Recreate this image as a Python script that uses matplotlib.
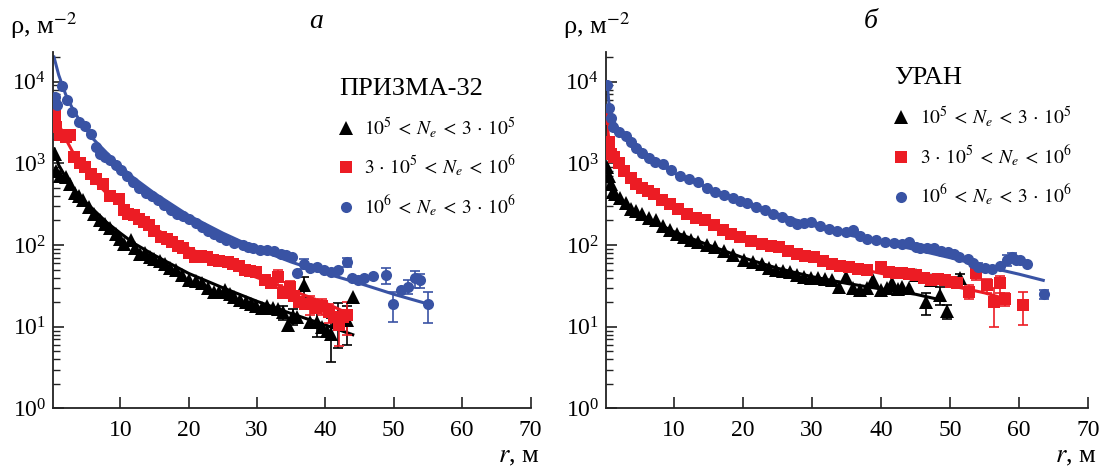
import numpy as np
import matplotlib
matplotlib.use('Agg')
import matplotlib.pyplot as plt
from matplotlib.lines import Line2D
from matplotlib.ticker import LogLocator, NullFormatter

plt.rcParams['font.family'] = ['Liberation Serif', 'DejaVu Serif']
plt.rcParams['mathtext.fontset'] = 'stix'

BLACK = '#000000'
RED = '#ec1c24'
BLUE = '#3953a4'

# ---- panel a: PRISMA-32 ----
a_blk_r = [0.4, 0.6, 1.2, 2.0, 2.6, 3.4, 4.0, 4.6, 5.4, 6.2, 7.0, 7.7, 8.5, 9.3, 10.0, 10.6,
           11.6, 12.2, 12.9, 13.6, 14.3, 15.0, 15.8, 16.5, 17.3, 18.1, 19.0, 20.1, 21.0, 21.9,
           22.8, 23.7, 24.5, 25.3, 26.0, 26.6, 27.5, 28.4, 29.1, 29.9, 30.7, 31.5, 32.3, 33.0,
           33.8, 34.6, 35.2, 35.9, 36.9, 37.7, 38.7, 39.5, 40.2, 40.8, 41.8, 43.1, 44.1]
a_blk_rho = [1300, 800, 700, 680, 560, 430, 400, 355, 290, 240, 205, 183, 160, 138, 118, 104,
             114, 92, 78, 80, 72, 68, 63, 59, 52, 49, 43, 37, 36, 34,
             30, 27, 27, 28, 25, 23, 21, 20, 19, 18, 17, 18, 17, 16.6,
             15, 10.4, 13.5, 13, 32, 11.5, 11.5, 10, 9, 8.2, 12.5, 12, 23]
a_red_r = [0.4, 0.6, 1.2, 2.0, 2.6, 3.3, 4.1, 4.8, 5.7, 6.5, 7.5, 8.5, 9.8, 10.5, 11.1, 12.0,
           12.7, 13.4, 14.2, 15.0, 16.0, 16.8, 17.6, 18.4, 19.1, 20.0, 20.9, 21.8, 22.7, 23.6,
           24.5, 25.8, 26.5, 27.3, 28.2, 29.0, 29.9, 31.2, 32.0, 33.0, 33.8, 34.8, 35.4, 36.1,
           37.0, 37.7, 38.6, 39.5, 40.5, 41.2, 42.0, 42.5, 43.1]
a_red_rho = [3900, 2800, 2200, 2100, 2200, 1200, 1000, 900, 750, 650, 560, 400, 370, 270, 242, 230,
             210, 192, 175, 150, 125, 118, 110, 98, 91, 80, 71, 73, 71, 66,
             63, 62, 58, 56, 50, 48, 47, 37, 34, 41, 26, 31, 24, 20,
             19, 19, 17, 18, 15, 13, 10.4, 13, 14]
a_blu_r = [0.5, 0.8, 1.5, 2.2, 3.0, 3.9, 4.8, 5.7, 6.4, 7.0, 7.8, 8.5, 9.3, 10.1, 11.0, 11.9,
           12.8, 13.7, 14.6, 15.5, 16.4, 17.4, 18.3, 19.2, 20.1, 21.0, 21.9, 22.8, 23.7, 24.6,
           25.5, 26.7, 27.9, 28.7, 29.4, 30.5, 31.5, 32.5, 33.5, 34.3, 35.1, 35.9, 36.9, 37.8,
           38.7, 39.8, 40.8, 41.9, 43.1, 43.9, 44.8, 45.7, 47.0, 48.8, 49.9, 51.1, 52.1, 53.1,
           53.9, 55.0]
a_blu_rho = [6500, 5200, 8800, 6000, 4200, 3200, 2900, 2300, 1600, 1300, 1200, 1100, 950, 820, 700, 590,
             500, 430, 400, 355, 310, 270, 240, 225, 210, 185, 166, 150, 138, 125,
             114, 105, 100, 94, 91, 88, 86, 84, 78, 75, 71, 45, 59, 52,
             54, 49, 47, 50, 62, 39, 37, 39, 42, 43, 19, 28, 31, 39,
             37, 19]

# fitted curves, panel a
a_blk_fit_r = [0.3, 1, 2, 3, 5, 8, 10, 12, 15, 20, 25, 30, 35, 40, 44]
a_blk_fit = [1500, 950, 680, 500, 330, 190, 140, 105, 75, 45, 30, 20.5, 14.5, 10.5, 8]
a_red_fit_r = [0.3, 1, 2, 3, 4, 5, 6, 8, 10, 12, 15, 20, 25, 30, 35, 40, 43]
a_red_fit = [4500, 3000, 2000, 1400, 1050, 800, 640, 430, 310, 235, 160, 92, 58, 40, 28, 19.5, 15]
a_blu_fit_r = [0.3, 1, 2, 3, 4, 5, 6, 8, 10, 12, 15, 20, 25, 30, 35, 40, 45, 50, 55]
a_blu_fit = [20000, 12000, 7000, 4700, 3400, 2600, 2000, 1350, 920, 660, 430, 230, 140, 90, 62, 45, 34, 25, 19]

# error bars (r, rho, half-length), panel a
a_blk_err = [(29.9, 18, 2), (33.8, 15, 3), (35.2, 13.5, 3), (36.9, 32, 9), (38.7, 11.5, 4),
             (40.8, 8.2, 4.5), (41.8, 12.5, 7), (43.1, 12, 6)]
a_red_err = [(33.0, 41, 9), (34.8, 31, 5), (37.7, 19, 5), (39.5, 18, 4), (40.5, 15, 4),
             (42.0, 10.4, 4.5), (43.1, 14, 6)]
a_blu_err = [(36.9, 59, 8), (43.1, 62, 8), (48.8, 43, 10), (49.9, 19, 7.5), (52.1, 31, 6),
             (53.1, 39, 9), (53.9, 37, 7), (55.0, 19, 8)]

# ---- panel б: УРАН ----
b_blk_r = [0.3, 0.5, 0.8, 1.2, 1.5, 2.2, 3.0, 3.8, 4.5, 5.3, 6.3, 7.4, 8.4, 9.4, 10.4, 11.4,
           12.4, 13.5, 14.7, 16.0, 17.3, 18.6, 20.1, 21.4, 22.7, 23.7, 24.7, 25.8, 26.8, 27.8,
           28.8, 29.8, 30.8, 31.8, 32.9, 33.9, 34.9, 36.0, 37.0, 38.0, 38.8, 40.0, 40.8, 41.6,
           42.4, 43.1, 44.1, 45.1, 46.5, 47.2, 48.5, 49.5, 51.5]
b_blk_rho = [900, 700, 560, 450, 420, 380, 330, 275, 260, 240, 215, 200, 170, 151, 138, 125,
             115, 109, 100, 95, 84, 75, 65, 62, 59, 53, 49, 48, 47, 43,
             41, 40, 39, 38, 37, 31, 41, 30, 28, 30, 37, 28, 30, 34,
             29, 31, 30, 43, 20, 37, 24.5, 15.4, 39]
b_red_r = [0.3, 0.5, 0.8, 1.3, 2.0, 2.8, 3.8, 4.5, 5.3, 6.2, 7.1, 8.2, 9.4, 10.6, 11.9, 13.2,
           14.5, 15.8, 17.1, 18.3, 19.6, 21.1, 22.7, 24.0, 25.2, 26.5, 27.8, 29.0, 30.3, 31.6,
           32.9, 34.1, 35.4, 36.7, 38.0, 40.0, 41.1, 42.1, 43.1, 44.1, 45.1, 46.2, 47.2, 48.2,
           49.2, 50.1, 51.0, 52.8, 53.8, 55.3, 56.4, 57.2, 58.0, 60.6]
b_red_rho = [3500, 1800, 1300, 1200, 1000, 800, 670, 560, 505, 460, 420, 360, 317, 275, 240, 215,
             200, 175, 151, 135, 125, 112, 104, 98, 95, 85, 78, 74, 71, 64,
             59, 56, 54, 51, 49, 54, 47, 46, 45, 44, 43, 40, 37, 38,
             37, 35, 34, 27, 45, 32, 20, 34, 22, 18.5]
b_blu_r = [0.3, 0.5, 0.8, 1.2, 2.0, 3.0, 3.7, 4.5, 5.4, 6.3, 7.3, 8.4, 9.6, 10.9, 12.2, 13.5,
           14.7, 16.0, 17.3, 18.6, 19.6, 20.6, 21.9, 23.2, 24.4, 25.7, 26.8, 27.8, 28.8, 29.8,
           31.1, 32.4, 33.6, 34.9, 36.0, 37.0, 38.0, 39.3, 40.6, 41.9, 43.1, 44.1, 45.0, 45.7,
           46.7, 47.7, 48.7, 49.7, 50.5, 51.3, 52.6, 53.3, 54.1, 55.1, 56.1, 57.2, 58.2, 58.9,
           59.6, 60.2, 61.2, 63.6]
b_blu_rho = [9000, 4800, 3600, 2800, 2400, 2150, 1800, 1550, 1350, 1170, 1050, 975, 820, 700, 640, 590,
             500, 440, 410, 380, 350, 330, 295, 265, 240, 218, 195, 180, 185, 190,
             170, 158, 150, 144, 151, 130, 119, 114, 109, 105, 104, 109, 96, 91,
             92, 91, 85, 82, 78, 71, 68, 60, 54, 52, 51, 55, 65, 71,
             66, 65, 59, 25]

# fitted curves, panel б
b_blk_fit_r = [0.3, 0.6, 1, 2, 3, 5, 7, 10, 15, 20, 25, 30, 35, 40, 45, 49]
b_blk_fit = [800, 560, 450, 360, 310, 240, 195, 145, 100, 70, 52, 41, 34, 29, 25, 21]
b_red_fit_r = [0.3, 0.6, 1, 2, 3, 5, 7, 10, 15, 20, 25, 30, 35, 40, 45, 50, 55, 58]
b_red_fit = [3000, 1800, 1400, 1000, 800, 540, 420, 300, 190, 125, 92, 70, 55, 45, 38, 32, 26, 22]
b_blu_fit_r = [0.3, 0.6, 1, 2, 3, 5, 7, 10, 15, 20, 25, 30, 35, 40, 45, 50, 55, 60, 63.5]
b_blu_fit = [9500, 5000, 3600, 2500, 2000, 1400, 1080, 760, 500, 340, 240, 175, 135, 108, 88, 70, 55, 44, 37]

b_blk_err = [(45.1, 43, 6), (46.5, 20, 6), (47.2, 37, 5), (48.5, 24.5, 6), (49.5, 15.4, 3),
             (51.5, 39, 5)]
b_red_err = [(52.8, 27, 5), (53.8, 45, 8), (55.3, 32, 6), (56.4, 20, 10), (57.2, 34, 8),
             (58.0, 22, 4), (60.6, 18.5, 8)]
b_blu_err = [(54.1, 54, 6), (58.2, 65, 10), (58.9, 71, 8), (63.6, 25, 3)]

labels = [r'$10^5\:<\:N_e\:<\:3\,\cdot\,10^5$',
          r'$3\,\cdot\,10^5\:<\:N_e\:<\:10^6$',
          r'$10^6\:<\:N_e\:<\:3\,\cdot\,10^6$']


def draw_panel(ax, series, letter, det_name, leg_y):
    for r, rho, fr, fit, err, color, marker, ms in series:
        ax.plot(fr, fit, '-', color=color, lw=2.2, zorder=2)
        if err:
            er, erho, ee = zip(*err)
            ax.errorbar(er, erho, yerr=ee, fmt='none', ecolor=color, elinewidth=1.2,
                        capsize=3.5, capthick=1.2, zorder=2)
        ax.plot(r, rho, linestyle='none', marker=marker, color=color, ms=ms,
                markeredgewidth=0, zorder=3)

    ax.set_yscale('log')
    ax.set_ylim(1, 2.3e4)
    ax.set_xlim(0.15, 70)
    ax.set_xticks([10, 20, 30, 40, 50, 60, 70])
    ax.yaxis.set_major_locator(LogLocator(base=10, numticks=10))
    ax.yaxis.set_minor_locator(LogLocator(base=10, subs=np.arange(2, 10), numticks=10))
    ax.yaxis.set_minor_formatter(NullFormatter())
    ax.tick_params(which='major', direction='in', length=8, width=1.2, labelsize=17,
                   colors='#222222', labelcolor='black')
    ax.tick_params(which='minor', direction='in', length=5, width=1.0, colors='#222222')
    ax.tick_params(axis='x', pad=8)
    ax.tick_params(axis='y', pad=5)
    for side in ['top', 'right']:
        ax.spines[side].set_visible(False)
    for side in ['left', 'bottom']:
        ax.spines[side].set_linewidth(1.3)
        ax.spines[side].set_color('#222222')

    ax.text(-0.09, 1.075, 'ρ, м$^{-2}$', transform=ax.transAxes, fontsize=19,
            ha='left', va='center')
    ax.text(0.975, -0.135, '$r$, м', transform=ax.transAxes, fontsize=19,
            ha='center', va='center')
    ax.text(0.55, 1.085, letter, transform=ax.transAxes, fontsize=20,
            style='italic', ha='center', va='center')

    handles = [Line2D([], [], linestyle='none', marker=s[6], color=s[5], ms=s[7],
                      markeredgewidth=0) for s in series]
    leg = ax.legend(handles, labels, title=det_name, loc='upper left',
                    bbox_to_anchor=(0.57, leg_y), frameon=False, fontsize=14,
                    title_fontsize=19, handlelength=0.7, handletextpad=0.6,
                    labelspacing=0.75, alignment='left', borderpad=0.2)
    return leg


fig = plt.figure(figsize=(11.03, 4.69), dpi=100)
ax1 = fig.add_axes([0.048, 0.129, 0.433, 0.76])
ax2 = fig.add_axes([0.5495, 0.129, 0.437, 0.76])

draw_panel(ax1, [
    (a_blk_r, a_blk_rho, a_blk_fit_r, a_blk_fit, a_blk_err, BLACK, '^', 10),
    (a_red_r, a_red_rho, a_red_fit_r, a_red_fit, a_red_err, RED, 's', 8.5),
    (a_blu_r, a_blu_rho, a_blu_fit_r, a_blu_fit, a_blu_err, BLUE, 'o', 8),
], 'а', 'ПРИЗМА-32', 0.965)

draw_panel(ax2, [
    (b_blk_r, b_blk_rho, b_blk_fit_r, b_blk_fit, b_blk_err, BLACK, '^', 10),
    (b_red_r, b_red_rho, b_red_fit_r, b_red_fit, b_red_err, RED, 's', 8.5),
    (b_blu_r, b_blu_rho, b_blu_fit_r, b_blu_fit, b_blu_err, BLUE, 'o', 8),
], 'б', 'УРАН', 0.995)

plt.savefig('out.png', dpi=100)
plt.close()
